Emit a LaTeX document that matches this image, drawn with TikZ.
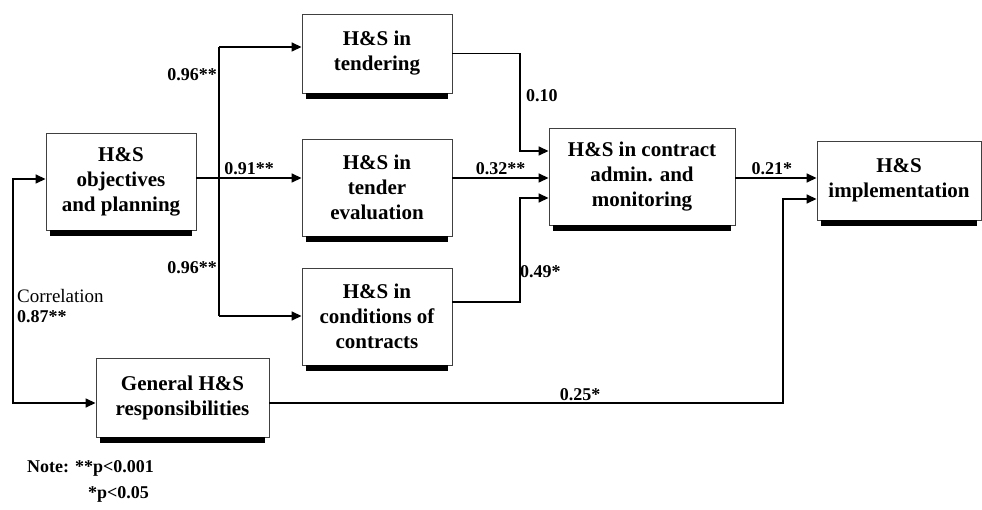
\documentclass[tikz,border=0pt]{standalone}
\usepackage{fontspec}
\setmainfont{Liberation Serif}
\usetikzlibrary{arrows.meta,positioning}
\tikzset{
    %Define standard arrow tip
    >={Triangle[length=10pt,width=9pt]},
    %Define style for boxes
    factor/.style={
           rectangle,
           draw=black!75, line width=0.9pt,
           minimum width=150pt,
           minimum height=97pt,
           font=\fontsize{21}{25}\selectfont\bfseries,
           align=center},
    flat/.style={
           factor,
           minimum height=79pt},
    % Define arrow style
    link/.style={
           line width=1.5pt},
    coef/.style={
           font=\fontsize{18}{21}\selectfont\bfseries,
           inner sep=2pt}
}
\begin{document}
\begin{tikzpicture}[x=1pt,y=-1pt]
\useasboundingbox (0,0) rectangle (982,510);
\node[factor](plan) at (121,181.5) {H\&S\\objectives\\and planning};
\node[flat](tend) at (377,53.5) {H\&S in\\tendering};
\node[factor](eval) at (377,187.5) {H\&S in\\tender\\evaluation};
\node[factor](cond) at (377,316.5) {H\&S in\\conditions of\\contracts};
\node[factor, minimum width=186pt](admin) at (642,176.5) {H\&S in contract\\admin. and\\monitoring};
\node[flat, minimum width=164pt](impl) at (899,180.5) {H\&S\\implementation};
\node[flat, minimum width=173pt](gen) at (182.5,397.5) {General H\&S\\responsibilities};
\foreach \n in {plan,tend,eval,cond,admin,impl,gen}
  \fill ([xshift=4pt]\n.south west) rectangle ([xshift=-4pt,yshift=-6pt]\n.south east);
% junctions
\coordinate (fork) at (219,178);
\coordinate (forktop) at (219,47);
\coordinate (forkbot) at (219,316);
\coordinate (jt) at (520,151);
\coordinate (jc) at (520,302);
\coordinate (jca) at (520,198);
\coordinate (jg) at (783,403);
\coordinate (jgi) at (783,199);
\coordinate (ct) at (13,179);
\coordinate (cb) at (13,403);
% paths
\draw[link,->] (plan.east |- fork) -- node[coef,above]{0.91**} (eval.west |- fork);
\draw[link,->] (forktop) -- (tend.west |- forktop);
\draw[link] (forktop) -- (forkbot);
\draw[link,->] (forkbot) -- (cond.west |- forkbot);
\node[coef,left](c1) at (219,75) {0.96**};
\node[coef,left](c2) at (219,268) {0.96**};
\draw[link,->] (tend.east) -| (jt) -- (admin.west |- jt);
\node[coef,right](c3) at (524,96) {0.10};
\draw[link,->] (eval.east |- fork) -- node[coef,above]{0.32**} (admin.west |- fork);
\draw[link,->] (cond.east |- jc) -| (jca) -- (admin.west |- jca);
\node[coef,right](c4) at (518,272) {0.49*};
\draw[link,->] (admin.east |- fork) -- node[coef,above,pos=0.45]{0.21*} (impl.west |- fork);
\draw[link,->] (gen.east |- jg) -| (jgi) -- (impl.west |- jgi);
\node[coef,above](c5) at (580,403) {0.25*};
\draw[link,<->] (plan.west |- ct) -- (ct) -- (cb) -- (gen.west |- cb);
\node[anchor=west,font=\fontsize{19}{22}\selectfont,inner sep=0pt](corr) at (17,296) {Correlation};
\node[coef,anchor=west,inner sep=0pt](c6) at (17,317) {0.87**};
% note
\node[coef,anchor=west,inner sep=0pt](note1) at (27,468) {Note: **p<0.001};
\node[coef,anchor=west,inner sep=0pt](note2) at (88,494) {*p<0.05};
\end{tikzpicture}
\end{document}
